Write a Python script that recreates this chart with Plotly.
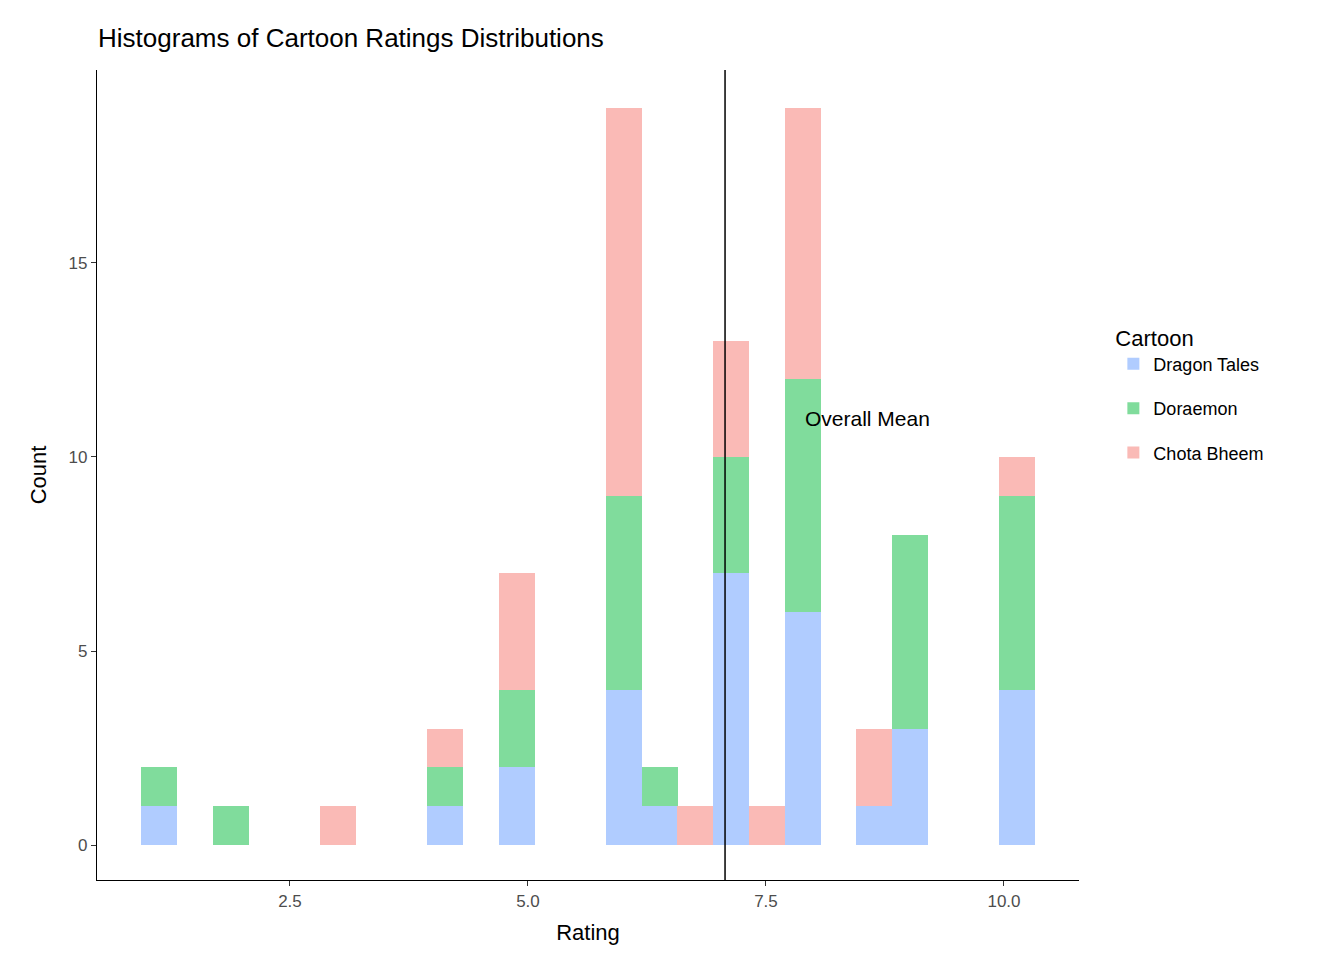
import plotly.graph_objects as go

bin_centers = [1.124, 1.880, 3.004, 4.128, 4.884, 6.008, 6.387, 6.754, 7.132, 7.510, 7.889, 8.634, 9.013, 10.137]
bin_width = 0.378
dragon_tales = [1, 0, 0, 1, 2, 4, 1, 0, 7, 0, 6, 1, 3, 4]
doraemon     = [1, 1, 0, 1, 2, 5, 1, 0, 3, 0, 6, 0, 5, 5]
chota_bheem  = [0, 0, 1, 1, 3, 10, 0, 1, 3, 1, 7, 2, 0, 1]
overall_mean = 7.07

fig = go.Figure()
for name, vals, col in [("Dragon Tales", dragon_tales, "#B0CCFF"),
                        ("Doraemon", doraemon, "#80DC9C"),
                        ("Chota Bheem", chota_bheem, "#FABAB6")]:
    fig.add_trace(go.Bar(x=bin_centers, y=vals, width=bin_width, name=name, legendgroup=name,
                         marker=dict(color=col, line=dict(width=0))))

fig.add_shape(type="line", x0=overall_mean, x1=overall_mean, y0=0, y1=1,
              xref="x", yref="paper", line=dict(color="black", width=1.5))
fig.add_annotation(x=overall_mean + 1.5, y=11, text="Overall Mean", showarrow=False,
                   font=dict(size=21, color="black"))

axis_common = dict(showgrid=False, zeroline=False, showline=True, linecolor="black",
                   linewidth=1.3, ticks="outside", ticklen=5, tickcolor="#333",
                   tickfont=dict(size=17, color="#4d4d4d"), automargin=False)
fig.update_layout(
    barmode="stack", bargap=0,
    width=1344, height=960,
    plot_bgcolor="white", paper_bgcolor="white",
    font=dict(family="Liberation Sans, Arial", color="black"),
    title=dict(text="Histograms of Cartoon Ratings Distributions", x=0.067, xanchor="left",
               y=0.969, yanchor="middle", font=dict(size=26)),
    margin=dict(l=89, r=273, t=62, b=88, autoexpand=False),
    xaxis=dict(range=[0.473, 10.788], tickvals=[2.5, 5.0, 7.5, 10.0],
               ticktext=["2.5", "5.0", "7.5", "10.0"],
               title=dict(text="Rating", font=dict(size=22), standoff=15), **axis_common),
    yaxis=dict(range=[-0.9, 19.97], tickvals=[0, 5, 10, 15],
               title=dict(text="Count", font=dict(size=22), standoff=15), **axis_common),
    legend=dict(title=dict(text="Cartoon", font=dict(size=22)), traceorder="reversed+grouped",
                tracegroupgap=18, x=1.035, y=0.6, yanchor="middle", font=dict(size=18)),
)
fig.write_html("out.html")
